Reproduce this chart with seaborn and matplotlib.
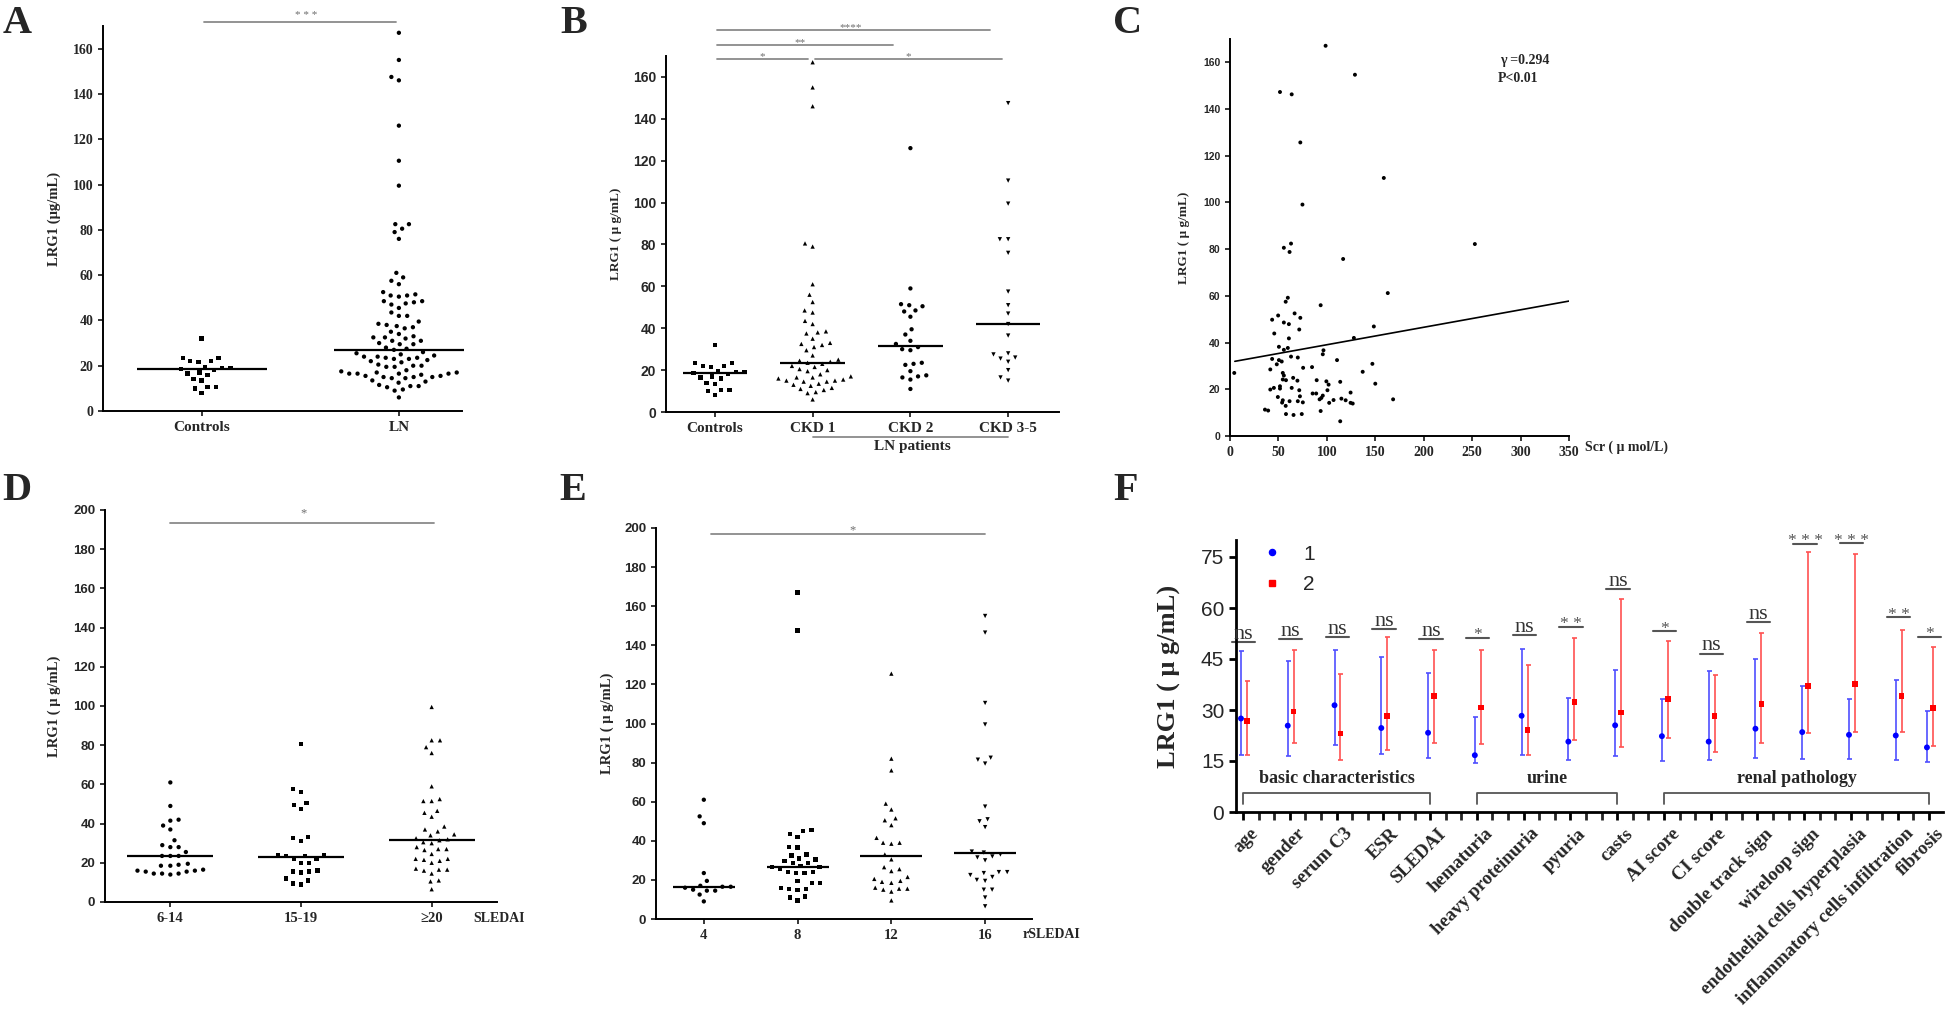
import numpy as np
import pandas as pd
import matplotlib.pyplot as plt
import seaborn as sns
from matplotlib.lines import Line2D
from matplotlib.ticker import FixedLocator
from matplotlib.transforms import ScaledTranslation

sns.set_style("ticks")
SERIF = ['Liberation Serif', 'DejaVu Serif']
SANS = ['Liberation Sans', 'DejaVu Sans']
plt.rcParams['font.family'] = SERIF
plt.rcParams['font.weight'] = 'bold'

W, H = 1946, 1015

# ---------------- data (LRG1, ug/mL) ----------------
# A / B
controls = [32, 23.5, 23.5, 22, 22, 21.5, 19.5, 19, 19, 18.5, 18, 17, 16.5, 16,
            14, 13.5, 10.5, 10.5, 10, 8]
ckd1 = [167, 155, 146, 80.5, 79, 61, 56, 52.5, 48.5, 47.5, 43.5, 42, 38.5, 38,
        37.5, 35, 33, 32.5, 32, 31, 29.5, 27, 25, 24.5, 24, 23.5, 23, 22, 21.5,
        20.5, 20, 19.5, 18, 17, 16.5, 16.5, 16, 15.5, 15, 15, 14.5, 14.5, 13.5,
        13, 12.5, 11.5, 11, 10.5, 9.5, 9, 6]
ckd2 = [126, 59, 51.5, 51, 50.5, 48.5, 48, 45.5, 39.5, 37, 34, 32.5, 31, 30,
        29.5, 23.5, 23, 22.5, 19.5, 17.5, 17, 16.5, 15.5, 11]
ckd35 = [147.5, 110.5, 99.5, 82.5, 82.5, 76, 57.5, 51, 47, 42, 36.5, 28, 27.5,
         26, 25.5, 24, 20, 16.5, 15]
ln_all = ckd1 + ckd2 + ckd35

a_groups = ['Controls', 'LN']
a_medians = [18.4, 26.8]
b_groups = ['Controls', 'CKD 1', 'CKD 2', 'CKD 3-5']
b_medians = [18.4, 23.4, 31.6, 42.1]

# C: serum creatinine vs LRG1
scr = [98.7, 129, 51.6, 63.7, 72.6, 158.8, 74.8, 252.8, 63, 55.6,
       61.5, 116.8, 162.9, 59.7, 57.5, 93.6, 66.7, 49.7, 72.6, 43.5,
       55.6, 60.8, 148.5, 71.5, 45.7, 127.9, 60.8, 50.5, 59.7, 55.6,
       96.5, 95.8, 63, 70, 43.5, 50.5, 53.4, 110.5, 147, 48.3,
       4.4, 41.6, 75.5, 84.7, 137, 54.5, 55.6, 65.2, 54.5, 57.8,
       69.6, 89.5, 99.5, 113.8, 101.8, 150, 51.6, 45.3, 63.7, 41.6,
       51.6, 71.5, 100.6, 85.3, 89, 124.5, 49.4, 72.2, 95.8, 94.3,
       92.5, 168.4, 115, 119.4, 54.5, 61.5, 53.8, 70, 75.2, 106.9,
       102.4, 124.5, 126.7, 57.5, 36.1, 39.4, 93.6, 57.8, 65.6, 74.1,
       113.8]
lrg_c = [167.1, 154.7, 147.3, 146.3, 125.7, 110.5, 99.1, 82.2, 82.4, 80.6,
         78.8, 75.8, 61.2, 59.2, 57.5, 56, 52.5, 51.6, 50.6, 49.8,
         48.6, 47.9, 46.9, 45.6, 43.9, 42, 41.8, 38.2, 37.7, 36.9,
         36.7, 35, 34, 33.6, 33, 32.5, 31.9, 32.5, 30.9, 30.7,
         27, 28.5, 29.2, 29.5, 27.5, 27, 25.9, 24.9, 24.2, 23.9,
         23.7, 23.9, 23.4, 23.2, 22, 22.4, 21.3, 20.6, 20.6, 19.9,
         20.3, 19.6, 19.6, 18.2, 18.2, 18.6, 16.7, 17, 17.3, 16.3,
         15.7, 15.7, 16, 15.3, 15.3, 14.9, 14.3, 14.9, 14.4, 15.4,
         14.2, 14.2, 13.9, 12.9, 11.3, 10.9, 10.7, 9.4, 9, 9.4,
         6.3]
fit_slope = 0.0748
fit_intercept = 31.6
fit_range = [5, 350]

# D: SLEDAI groups
d_groups = ['6-14', '15-19', '≥20']
d_6_14 = [61, 49, 42, 41.5, 39, 37, 31.5, 29, 28, 28, 25.5, 23.5, 23.5, 23.5,
          19.5, 19, 18.5, 18.5, 16.5, 16, 16, 15.5, 15.5, 14.5, 14.5, 14.5, 14]
d_15_19 = [80.5, 57.5, 56, 50.5, 49.5, 47.5, 33, 32.5, 31, 24, 24, 23.5, 23.5,
           22, 22, 20, 20, 16, 15.5, 15.5, 15, 12, 11, 9.5, 9]
d_ge20 = [99.5, 82.5, 82.5, 79, 76, 59, 52.5, 51.5, 51.5, 46.5, 45.5, 43.5,
          38.5, 37, 36, 34.5, 34, 32.5, 32, 31.5, 30.5, 30, 28, 27, 27, 26.5,
          24.5, 22, 22, 21.5, 21, 20, 17, 16.5, 16.5, 16, 14.5, 11, 10.5, 6.5]
d_medians = [23.3, 23.0, 31.8]

# E: rSLEDAI groups
e_groups = ['4', '8', '12', '16']
e_4 = [61, 52.5, 49, 23.5, 19.5, 17, 16.5, 16.5, 16, 15, 14.5, 14.5, 12.5, 9]
e_8 = [167, 147.5, 45.5, 45, 43.5, 42, 37, 36.5, 33, 32.5, 31, 30.5, 29.5,
       28.5, 28.5, 27, 26.5, 26.5, 25.5, 24, 24, 23.5, 23.5, 19.5, 18.5, 18.5,
       16, 15.5, 15.5, 15, 11.5, 11, 9.5]
e_12 = [125.5, 82, 76, 59, 56, 51.5, 50.5, 48, 41.5, 39, 39, 38.5, 33, 30.5,
        26.5, 25.5, 24.5, 21.5, 20.5, 19.5, 19, 18.5, 16, 15.5, 15.5, 15, 14, 9.5]
e_16 = [155, 146.5, 110.5, 99.5, 82.5, 81.5, 79.5, 57.5, 51, 50, 47, 34.5, 34,
        33, 32, 31.5, 30, 24, 24, 23.5, 22.5, 21.5, 20, 19.5, 15, 15, 11, 6.5]
e_medians = [16.5, 26.7, 32.2, 33.6]

# F: clinical / pathology subgroups
f_labels = ['age', 'gender', 'serum C3', 'ESR', 'SLEDAI', 'hematuria',
            'heavy proteinuria', 'pyuria', 'casts', 'AI score', 'CI score',
            'double track sign', 'wireloop sign', 'endothelial cells hyperplasia',
            'inflammatory cells infiltration', 'fibrosis']
g1_mid = [27.5, 25.4, 31.4, 24.7, 23.3, 16.7, 28.3, 20.7, 25.5, 22.3, 20.7, 24.5, 23.5, 22.7, 22.5, 19.0]
g1_hi = [47.3, 44.4, 47.7, 45.5, 40.9, 27.8, 47.9, 33.6, 41.7, 33.2, 41.4, 45.1, 37.1, 33.2, 38.8, 29.7]
g1_lo = [16.7, 16.5, 19.6, 17.0, 15.9, 14.5, 16.7, 15.3, 16.6, 15.1, 15.3, 15.9, 15.6, 15.5, 15.3, 14.8]
g2_mid = [26.7, 29.5, 23.1, 28.3, 34.1, 30.8, 24.1, 32.3, 29.3, 33.3, 28.3, 31.8, 37.1, 37.6, 34.1, 30.6]
g2_hi = [38.6, 47.7, 40.7, 51.5, 47.7, 47.7, 43.2, 51.1, 62.6, 50.4, 40.3, 52.7, 76.5, 75.8, 53.5, 48.5]
g2_lo = [16.7, 20.2, 15.3, 18.3, 20.2, 19.9, 16.7, 21.3, 19.2, 21.9, 17.7, 20.2, 23.1, 23.4, 23.4, 19.4]
f_sig = ['ns', 'ns', 'ns', 'ns', 'ns', '*', 'ns', '* *', 'ns', '*', 'ns', 'ns', '* * *', '* * *', '* *', '*']
f_sig_y = [50.0, 51.0, 51.6, 53.7, 51.0, 51.3, 52.0, 54.5, 65.5, 53.1, 46.6, 55.8, 78.8, 79.0, 57.3, 51.5]
f_sections = [('basic characteristics', 0, 4), ('urine', 5, 8), ('renal pathology', 9, 15)]

# ---------------- figure ----------------
fig = plt.figure(figsize=(W / 100, H / 100), dpi=100)
fig.patch.set_facecolor('white')


def add_axes(left, top, right, bottom):
    # pixel box of the plotting area -> figure fractions
    return fig.add_axes([left / W, 1 - bottom / H, (right - left) / W, (bottom - top) / H])


def style_axes(ax, lw=1.4):
    for s in ['top', 'right']:
        ax.spines[s].set_visible(False)
    for s in ['left', 'bottom']:
        ax.spines[s].set_linewidth(lw)
        ax.spines[s].set_color('black')
    ax.tick_params(direction='out', length=3.5, width=1.1, color='black')


def swarm_panel(ax, groups, values, markers, medians):
    df = pd.DataFrame({'group': np.repeat(groups, [len(v) for v in values]),
                       'lrg1': np.concatenate([np.asarray(v, float) for v in values])})
    for g, m in zip(groups, markers):
        # invisible edge widens the swarm spacing like the Prism layout
        sns.swarmplot(data=df[df.group == g], x='group', y='lrg1', order=groups,
                      marker=m, color='black', size=3.1, linewidth=2.6,
                      edgecolor='none', ax=ax, warn_thresh=1)
    idx = np.arange(len(groups))
    ax.hlines(medians, idx - 0.33, idx + 0.33, color='black', lw=1.6, zorder=5, clip_on=False)
    ax.set_xlabel('')
    ax.set_ylabel('')
    style_axes(ax)


def sig(ax, x0, x1, y, text, tx, dy, size=8):
    ax.plot([x0, x1], [y, y], color='#8a8a8a', lw=1.3, clip_on=False)
    ax.annotate(text, xy=(tx, y), xytext=(0, dy), textcoords='offset points',
                ha='center', va='baseline', color='#6e6e6e', fontsize=size,
                fontweight='normal', annotation_clip=False)


def panel_letter(x, baseline, s):
    fig.text(x / W, 1 - baseline / H, s, fontsize=29, fontweight='bold', va='baseline')


def ylab(ax, text, x, size):
    ax.set_ylabel(text, fontsize=size, fontweight='bold')
    ax.yaxis.set_label_coords(x, 0.5)


# ---- A ----
axA = add_axes(103, 26, 462, 411)
swarm_panel(axA, a_groups, [controls, ln_all], ['s', 'o'], a_medians)
axA.set_xlim(-0.5, 1.32)
axA.set_ylim(0, 170)
axA.set_yticks(range(0, 161, 20), labels=[str(v) for v in range(0, 161, 20)],
               fontsize=10, fontweight='bold', family=SERIF)
axA.set_xticks(range(2), labels=a_groups, fontsize=11, fontweight='bold', family=SERIF)
ylab(axA, 'LRG1 (μg/mL)', -0.117, 10.5)
sig(axA, 0.01, 0.985, 171.9, '* * *', 0.53, 3)
panel_letter(3, 33, 'A')

# ---- B ----
axB = add_axes(666, 56, 1059, 412)
swarm_panel(axB, b_groups, [controls, ckd1, ckd2, ckd35], ['s', '^', 'o', 'v'], b_medians)
axB.set_xlim(-0.5, 3.52)
axB.set_ylim(0, 170)
axB.set_yticks(range(0, 161, 20), labels=[str(v) for v in range(0, 161, 20)],
               fontsize=10, fontweight='bold', family=SANS)
axB.set_xticks(range(4), labels=b_groups, fontsize=11, fontweight='bold', family=SERIF)
ylab(axB, 'LRG1 ( μ g/mL)', -0.112, 9.5)
sig(axB, 0.02, 2.81, 182.4, '****', 1.39, 0)
sig(axB, 0.02, 1.82, 175.3, '**', 0.87, 0)
sig(axB, 0.02, 0.95, 168.6, '*', 0.48, 0)
sig(axB, 1.02, 2.94, 168.6, '*', 1.98, 0)
tr = axB.get_xaxis_transform()
axB.plot([1, 3], [-0.07, -0.07], color='#8a8a8a', lw=1.3, transform=tr, clip_on=False)
axB.text(2.02, -0.098, 'LN patients', transform=tr, ha='center', va='center',
         fontsize=11, fontweight='bold')
panel_letter(560, 33, 'B')

# ---- C ----
axC = add_axes(1230, 39, 1569, 436)
sns.scatterplot(x=scr, y=lrg_c, color='black', s=8, edgecolor='none', ax=axC)
xs = np.array(fit_range, float)
axC.plot(xs, fit_intercept + fit_slope * xs, color='black', lw=1.2)
axC.set_xlim(0, 350)
axC.set_ylim(0, 170)
axC.set_yticks(range(0, 161, 20), labels=[str(v) for v in range(0, 161, 20)],
               fontsize=7.5, fontweight='bold', family=SANS)
axC.set_xticks(range(0, 351, 50), labels=[str(v) for v in range(0, 351, 50)],
               fontsize=10, fontweight='bold', family=SERIF)
style_axes(axC)
ylab(axC, 'LRG1 ( μ g/mL)', -0.118, 9.5)
axC.text(279, 161, 'γ =0.294', fontsize=10, fontweight='bold', va='center')
axC.text(277, 153, 'P<0.01', fontsize=10, fontweight='bold', va='center')
fig.text(1585 / W, 1 - 447 / H, 'Scr ( μ mol/L)', fontsize=10, fontweight='bold', va='center')
panel_letter(1113, 33, 'C')

# ---- D ----
axD = add_axes(105, 510, 497, 902)
swarm_panel(axD, d_groups, [d_6_14, d_15_19, d_ge20], ['o', 's', '^'], d_medians)
axD.set_xlim(-0.5, 2.5)
axD.set_ylim(0, 200)
axD.set_yticks(range(0, 201, 20), labels=[str(v) for v in range(0, 201, 20)],
               fontsize=9.5, fontweight='bold', family=SANS)
axD.set_xticks(range(3), labels=d_groups, fontsize=10.5, fontweight='bold', family=SERIF)
ylab(axD, 'LRG1 ( μ g/mL)', -0.112, 10.5)
sig(axD, 0.0, 2.02, 193.4, '*', 1.02, 4.5, size=9)
fig.text(473 / W, 1 - 918 / H, 'SLEDAI', fontsize=10, fontweight='bold', va='center')
panel_letter(2, 500, 'D')

# ---- E ----
axE = add_axes(656, 528, 1032, 919)
swarm_panel(axE, e_groups, [e_4, e_8, e_12, e_16], ['o', 's', '^', 'v'], e_medians)
axE.set_xlim(-0.51, 3.5)
axE.set_ylim(0, 200)
axE.set_yticks(range(0, 201, 20), labels=[str(v) for v in range(0, 201, 20)],
               fontsize=9.5, fontweight='bold', family=SANS)
axE.set_xticks(range(4), labels=e_groups, fontsize=10.5, fontweight='bold', family=SERIF)
ylab(axE, 'LRG1 ( μ g/mL)', -0.112, 10.5)
sig(axE, 0.08, 3.0, 196.9, '*', 1.59, 0.5, size=9)
fig.text(1023 / W, 1 - 935 / H, 'rSLEDAI', fontsize=10, fontweight='bold', va='center')
panel_letter(559, 500, 'E')

# ---- F ----
axF = add_axes(1236, 540, 1943, 812)
f_pos = np.arange(len(f_labels)) * 3.0
f_pos[-1] = 44  # last category sits two minor steps after the previous one
x1 = f_pos - 0.13
x2 = f_pos + 0.25
axF.errorbar(x1, g1_mid, yerr=[np.subtract(g1_mid, g1_lo), np.subtract(g1_hi, g1_mid)],
             fmt='none', ecolor='#4f4fff', elinewidth=1.2, capsize=1.8, capthick=1.2)
axF.errorbar(x2, g2_mid, yerr=[np.subtract(g2_mid, g2_lo), np.subtract(g2_hi, g2_mid)],
             fmt='none', ecolor='#ff5252', elinewidth=1.2, capsize=1.8, capthick=1.2)
sns.scatterplot(x=x1, y=g1_mid, marker='o', color='#0000ff', s=18, edgecolor='none', ax=axF, zorder=3)
sns.scatterplot(x=x2, y=g2_mid, marker='s', color='#ff0000', s=16, edgecolor='none', ax=axF, zorder=3)

for p, txt, y in zip(f_pos, f_sig, f_sig_y):
    axF.plot([p - 0.7, p + 0.8], [y, y], color='#555555', lw=1.5, clip_on=False)
    if txt == 'ns':
        axF.text(p + 0.05, y + 0.9, txt, ha='center', va='baseline', fontsize=16,
                 fontweight='normal', color='#333333', clip_on=False)
    else:
        axF.text(p + 0.05, y - 0.4, txt, ha='center', va='baseline', fontsize=12.5,
                 fontweight='normal', color='#555555', clip_on=False)

for name, i0, i1 in f_sections:
    a, b = f_pos[i0], f_pos[i1]
    axF.plot([a, a, b, b], [2.4, 5.5, 5.5, 2.4], color='#555555', lw=1.3)
    axF.text((a + b) / 2, 9.9, name, ha='center', va='center', fontsize=13, fontweight='bold')

axF.set_xlim(-0.45, 44.9)
axF.set_ylim(0, 80)
axF.set_yticks(range(0, 76, 15), labels=[str(v) for v in range(0, 76, 15)],
               fontsize=15, fontweight='normal', family=SANS)
axF.set_xticks(f_pos, labels=f_labels, rotation=45, ha='right', rotation_mode='anchor',
               fontsize=13.5, fontweight='bold', family=SERIF)
axF.xaxis.set_minor_locator(FixedLocator(np.arange(0, 45)))
style_axes(axF, lw=2)
axF.tick_params(axis='x', which='both', length=6, width=2, direction='out')
axF.tick_params(axis='y', length=5, width=2)
shift = ScaledTranslation(5 / 72, 0, fig.dpi_scale_trans)
for lbl in axF.get_xticklabels():
    lbl.set_transform(lbl.get_transform() + shift)
axF.set_xlabel('')
ylab(axF, 'LRG1 ( μ g/mL)', -0.078, 19)

handles = [Line2D([], [], marker='o', color='#0000ff', ls='none', ms=4.4),
           Line2D([], [], marker='s', color='#ff0000', ls='none', ms=4.0)]
axF.legend(handles, ['1', '2'], loc='upper left', bbox_to_anchor=(0.01, 1.052),
           frameon=False, prop={'family': SANS, 'size': 15, 'weight': 'normal'},
           handletextpad=1.0, labelspacing=0.55, handlelength=1.0)
panel_letter(1113, 500, 'F')

fig.savefig('out.png', dpi=100, facecolor='white')
